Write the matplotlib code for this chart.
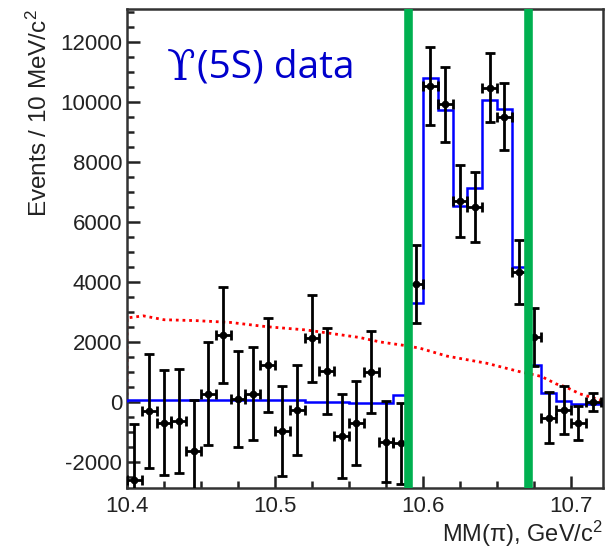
"""Missing-mass spectrum MM(pi) with fit and background overlay."""
import numpy as np
import matplotlib.pyplot as plt
from matplotlib.ticker import MultipleLocator

# binning: 10 MeV bins starting at 10.40 GeV
BIN_LO = 10.40
BIN_W = 0.01
N_BINS = 32

# data points (events per bin) and their errors
counts = [-2600, -300, -700, -630, -1630, 270, 2230, 100, 270, 1230,
          -970, -270, 2130, 1030, -1130, -700, 1000, -1330, -1370, 3930,
          10530, 9930, 6700, 6510, 10480, 9510, 4340, 2170, -530, -270,
          -690, 10]
errors = [1850, 1900, 1750, 1730, 1700, 1720, 1600, 1600, 1550, 1570,
          1500, 1500, 1450, 1430, 1400, 1400, 1380, 1350, 1350, 1300,
          1300, 1250, 1200, 1170, 1160, 1110, 1060, 970, 850, 790,
          570, 300]

# fit result, one value per bin
fit = [80, 80, 80, 80, 80, 80, 80, 80, 80, 50,
       50, 50, 10, 10, 10, -30, -30, -30, 230, 3300,
       10810, 9730, 6530, 7120, 10070, 9760, 4510, 1230, 290, 20,
       -60, -60]

# background shape (red dotted)
bkg_x = [10.400, 10.400, 10.411, 10.425, 10.447, 10.470, 10.494, 10.521,
         10.557, 10.571, 10.588, 10.598, 10.616, 10.643, 10.666, 10.680,
         10.690, 10.696, 10.706, 10.720]
bkg_y = [0, 2800, 2870, 2740, 2710, 2650, 2510, 2400,
         2150, 2000, 1880, 1790, 1530, 1290, 1000, 850,
         600, 510, 270, 60]

# signal window boundaries
window = [10.59, 10.671]


def main():
    plt.rcParams['font.family'] = ['Liberation Sans', 'DejaVu Sans']
    plt.rcParams['mathtext.fontset'] = 'custom'
    plt.rcParams['mathtext.rm'] = 'Liberation Sans'
    plt.rcParams['mathtext.it'] = 'Liberation Sans'
    plt.rcParams['axes.unicode_minus'] = False

    fig = plt.figure(figsize=(6.06, 5.52), dpi=100)
    ax = fig.add_axes([0.2096, 0.1159, 0.7854, 0.8678])

    edges = BIN_LO + BIN_W * np.arange(N_BINS + 1)
    centers = 0.5 * (edges[:-1] + edges[1:])

    ax.plot(bkg_x, bkg_y, color='red', lw=2.0, ls=(0, (1, 1.4)), zorder=2)
    ax.stairs(fit, edges, color='#0000ff', lw=1.8, zorder=3)
    ax.errorbar(centers, counts, yerr=errors, xerr=BIN_W / 2, fmt='o',
                color='black', ms=4.5, elinewidth=2.0, capsize=3.5,
                capthick=2.0, zorder=4)
    for xv in window:
        ax.axvline(xv, color='#00b050', lw=6.2, zorder=5)

    # hooked upsilon from a serif face, rest of the label in a sans face
    ups = ax.text(0.084, 0.877, 'ϒ', transform=ax.transAxes,
                  color='#0000cc', fontsize=30, va='center', ha='left',
                  family='DejaVu Serif')
    ax.annotate('(5S) data', xy=(1, 0.5), xycoords=ups,
                xytext=(1, 0), textcoords='offset points',
                color='#0000cc', fontsize=28, va='center', ha='left',
                family=['Open Sans', 'DejaVu Sans'])

    ax.set_xlim(10.4, 10.7216)
    ax.set_ylim(-2870, 13100)
    ax.xaxis.set_major_locator(MultipleLocator(0.1))
    ax.xaxis.set_minor_locator(MultipleLocator(0.025))
    ax.yaxis.set_major_locator(MultipleLocator(2000))
    ax.yaxis.set_minor_locator(MultipleLocator(500))
    ax.tick_params(which='both', direction='in', top=False, right=False,
                   width=1.8, color='#222222', labelsize=16,
                   labelcolor='#222222')
    ax.tick_params(which='major', length=9)
    ax.tick_params(which='minor', length=5)
    ax.tick_params(axis='x', pad=6)
    for sp in ax.spines.values():
        sp.set_linewidth(1.8)
        sp.set_color('#333333')

    ax.set_ylabel('Events / 10 MeV/c$^2$', fontsize=17.5, loc='top',
                  color='#222222', labelpad=6)
    ax.set_xlabel(r'MM($\pi$), GeV/c$^2$', fontsize=17, loc='right',
                  color='#222222', labelpad=1)

    fig.savefig('out.png', dpi=100)


if __name__ == '__main__':
    main()
